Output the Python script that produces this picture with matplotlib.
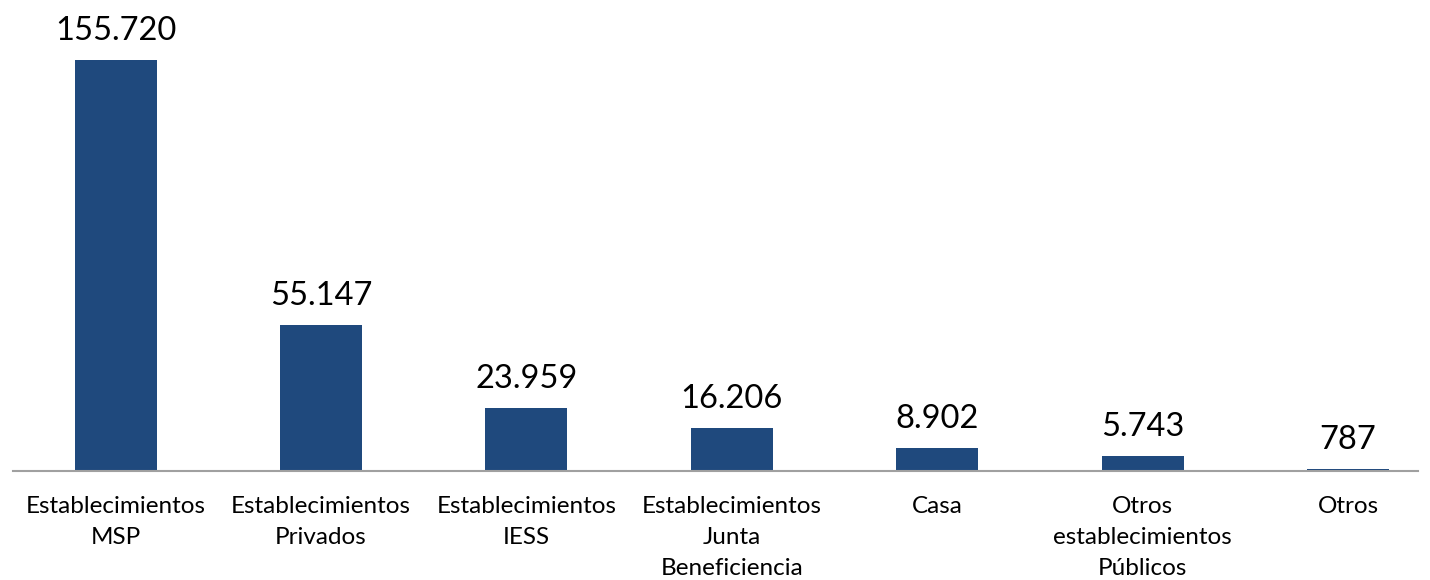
import matplotlib
matplotlib.use("Agg")
import matplotlib.pyplot as plt

categories = ["Establecimientos\nMSP", "Establecimientos\nPrivados", "Establecimientos\nIESS",
              "Establecimientos\nJunta\nBeneficiencia", "Casa", "Otros\nestablecimientos\nPúblicos", "Otros"]
values = [155720, 55147, 23959, 16206, 8902, 5743, 787]
value_labels = ["155.720", "55.147", "23.959", "16.206", "8.902", "5.743", "787"]

plt.rcParams['font.family'] = ['Lato', 'DejaVu Sans']

W, H = 1430, 580
fig = plt.figure(figsize=(W / 100, H / 100), dpi=100)
left_px, right_px, base_px = 13, 1418, 471
ax = fig.add_axes([left_px / W, 1 - base_px / H, (right_px - left_px) / W, base_px / H])

spacing = 205.4
x = list(range(len(values)))
ax.bar(x, values, width=82 / spacing, color="#1F497D", zorder=2)
ax.set_xlim(-0.5, (right_px - left_px) / spacing - 0.5)
ax.set_ylim(0, 155720 * base_px / 411)

for xi, v, lab in zip(x, values, value_labels):
    ax.annotate(lab, (xi, v), xytext=(0, 14), textcoords="offset pixels",
                ha="center", va="bottom", fontsize=23.5, color="black")

ax.set_xticks(x)
ax.set_xticklabels(categories, fontsize=17.5, linespacing=1.6, va="top")
ax.tick_params(axis="x", length=0, pad=18)
ax.set_yticks([])
for s in ["top", "right", "left"]:
    ax.spines[s].set_visible(False)
ax.spines["bottom"].set_color("#A0A0A0")
ax.spines["bottom"].set_linewidth(1.5)
ax.patch.set_alpha(0)

fig.savefig("out.png", dpi=100)
